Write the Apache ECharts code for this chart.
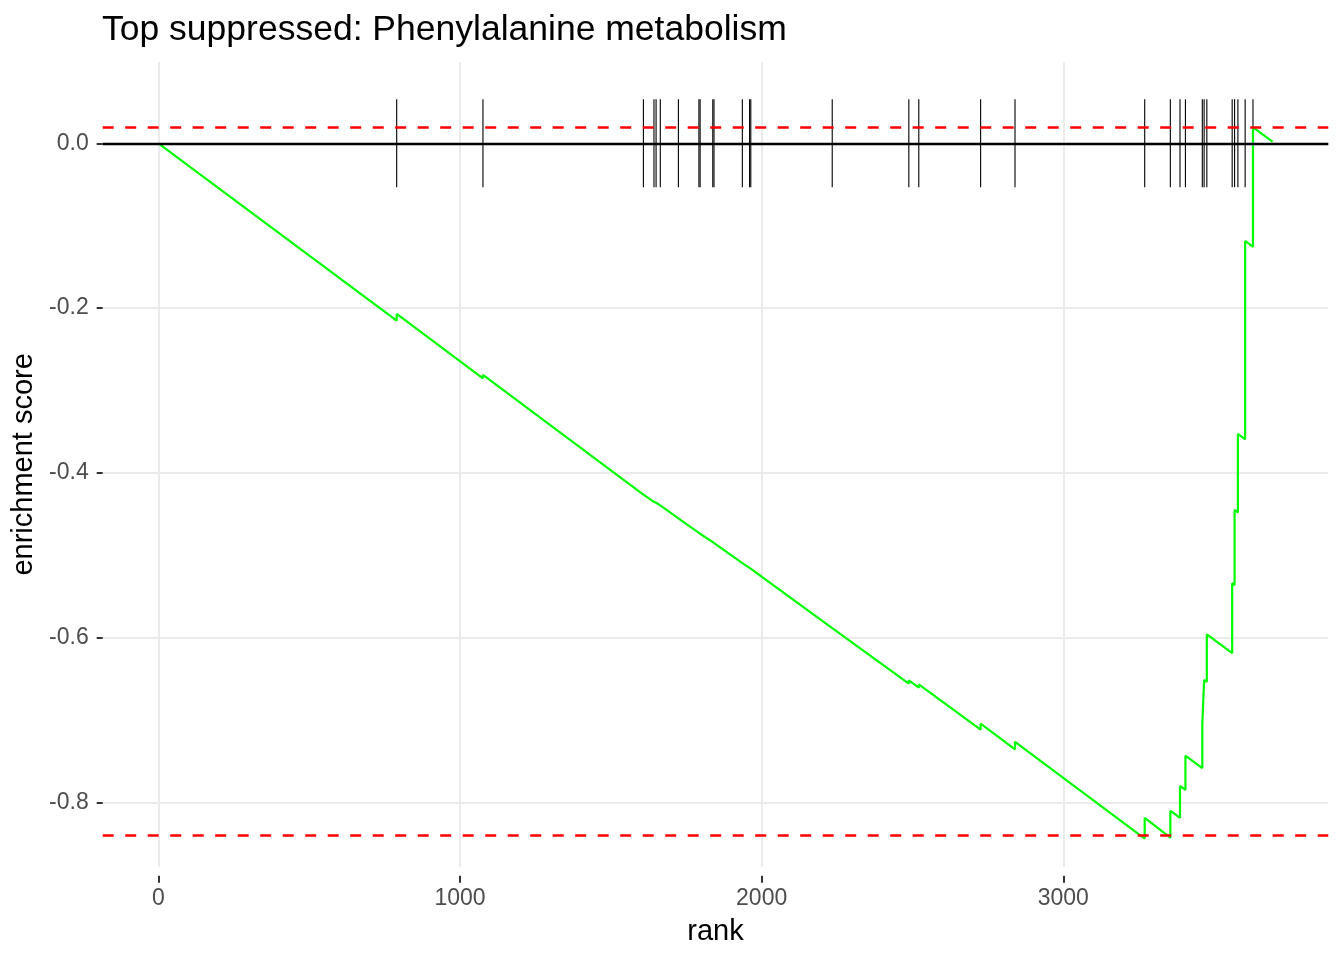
<!DOCTYPE html>
<html><head><meta charset="utf-8">
<script src="https://cdn.jsdelivr.net/npm/echarts@6/dist/echarts.min.js"></script>
<style>html,body{margin:0;padding:0;background:#fff}#c{width:1344px;height:960px}</style>
</head><body><div id="c"></div>
<script>
const chartTitle = 'Top suppressed: Phenylalanine metabolism';
const xTitle = 'rank';
const yTitle = 'enrichment score';
const hitRanks = [790,1076,1608,1643,1650,1664,1724,1792,1796,1838,1842,1936,1960,1964,2234,2488,2521,2726,2840,3270,3355,3387,3405,3461,3467,3476,3560,3568,3579,3603,3629];
const curveRanks = [0,790,790,1076,1076,1608,1608,1643,1643,1650,1650,1664,1664,1724,1724,1792,1792,1796,1796,1838,1838,1842,1842,1936,1936,1960,1960,1964,1964,2234,2234,2488,2488,2521,2521,2726,2726,2840,2840,3270,3270,3355,3355,3387,3387,3405,3405,3461,3461,3467,3467,3476,3476,3560,3560,3568,3568,3579,3579,3603,3603,3629,3629,3694];
const curveValues = [0,-0.2152,-0.2071,-0.2851,-0.2811,-0.4262,-0.4255,-0.4350,-0.4343,-0.4362,-0.4355,-0.4393,-0.4386,-0.4550,-0.4543,-0.4728,-0.4721,-0.4732,-0.4725,-0.4840,-0.4833,-0.4844,-0.4837,-0.5093,-0.5086,-0.5151,-0.5144,-0.5155,-0.5148,-0.5883,-0.5862,-0.6555,-0.6515,-0.6605,-0.6565,-0.7115,-0.7042,-0.7353,-0.7262,-0.8435,-0.8186,-0.8425,-0.8097,-0.8184,-0.7797,-0.7846,-0.7430,-0.7580,-0.7045,-0.7061,-0.6511,-0.6536,-0.5957,-0.6186,-0.5338,-0.5360,-0.4449,-0.4479,-0.3527,-0.3592,-0.1185,-0.1256,0.0194,0.0019];
const xTicks = [0,1000,2000,3000];
const yTicks = [-0.8,-0.6,-0.4,-0.2,0];
const posThreshold = 0.0194;
const negThreshold = -0.844;
const hitHalfHeight = 0.0535;
const xRange = [-184.7, 3878.7];
const yRange = [-0.8777, 0.0986];

const FONT = 'Liberation Sans, Arial, Helvetica, sans-serif';
const curveData = curveRanks.map((r,i)=>[r, curveValues[i]]);
const hitData = hitRanks.map(r=>[r, 0]);

const chart = echarts.init(document.getElementById('c'), null, {renderer:'canvas'});
chart.setOption({
  animation:false,
  backgroundColor:'#fff',
  title:{text:chartTitle, left:102, top:12, padding:0,
    textStyle:{fontFamily:FONT, fontSize:35.5, fontWeight:'normal', color:'#000'}},
  grid:{left:102.7, right:15.7, top:62, bottom:93.3, containLabel:false},
  xAxis:{type:'value', min:xRange[0], max:xRange[1], offset:9,
    name:xTitle, nameLocation:'middle', nameGap:42,
    nameTextStyle:{fontFamily:FONT, fontSize:29, color:'#000'},
    axisLine:{show:false, onZero:false},
    axisTick:{show:true, customValues:xTicks, length:7, lineStyle:{color:'#333', width:2}},
    axisLabel:{customValues:xTicks, color:'#4D4D4D', fontFamily:FONT, fontSize:23, margin:11,
      formatter:v=>String(v)},
    splitLine:{show:true, lineStyle:{color:'#EBEBEB', width:2}}},
  yAxis:{type:'value', min:yRange[0], max:yRange[1],
    name:yTitle, nameLocation:'middle', nameGap:55, nameRotate:90,
    nameTextStyle:{fontFamily:FONT, fontSize:29, color:'#000'},
    axisLine:{show:false, onZero:false},
    axisTick:{show:true, customValues:yTicks, length:6, lineStyle:{color:'#333', width:2}},
    axisLabel:{customValues:yTicks, color:'#4D4D4D', fontFamily:FONT, fontSize:23, margin:14,
      formatter:v=>Number(v).toFixed(1)},
    splitLine:{show:true, lineStyle:{color:'#EBEBEB', width:2}}},
  series:[
    {type:'custom', z:1, silent:true, data:hitData,
      renderItem:(params, api)=>{
        const r = api.value(0);
        const p1 = api.coord([r, hitHalfHeight]);
        const p2 = api.coord([r, -hitHalfHeight]);
        return {type:'line', shape:{x1:p1[0], y1:p1[1], x2:p2[0], y2:p2[1]},
          style:{stroke:'#000', lineWidth:1.1}};
      }},
    {type:'line', z:2, silent:true, data:curveData, symbol:'none',
      lineStyle:{opacity:0},
      markLine:{silent:true, symbol:['none','none'], label:{show:false},
        data:[
          {yAxis:0, lineStyle:{color:'#000', width:2.4, type:'solid'}},
          {yAxis:posThreshold, lineStyle:{color:'#FF0000', width:2.5, type:[11,11.5]}},
          {yAxis:negThreshold, lineStyle:{color:'#FF0000', width:2.5, type:[11,11.5]}}
        ]}},
    {type:'line', z:3, silent:true, data:curveData, symbol:'none',
      lineStyle:{color:'#00FF00', width:2.2}}
  ]
});
</script></body></html>
